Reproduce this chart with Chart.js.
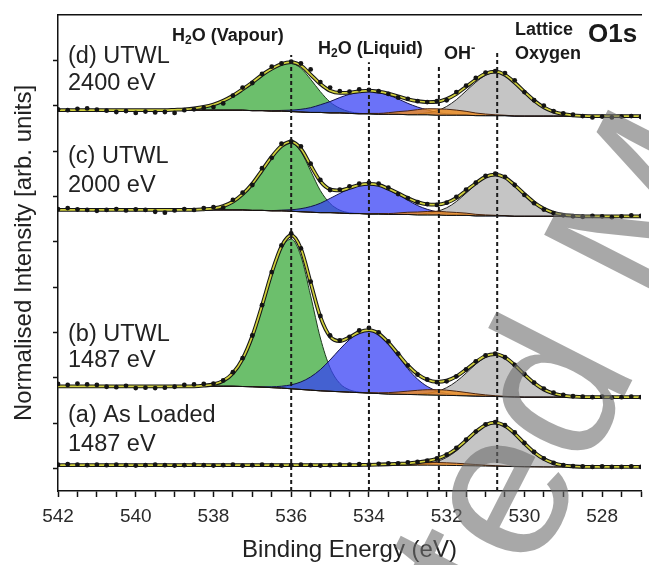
<!DOCTYPE html>
<html>
<head>
<meta charset="utf-8">
<script src="https://cdn.jsdelivr.net/npm/chart.js@4.4.0/dist/chart.umd.min.js"></script>
<style>
  html, body { margin: 0; padding: 0; background: #fff; }
  canvas { display: block; }
</style>
</head>
<body>
<canvas id="xps" width="649" height="565"></canvas>
<script>
// binding energy grid (eV)
var energy = [542, 541.75, 541.5, 541.25, 541, 540.75, 540.5, 540.25, 540, 539.75,
  539.5, 539.25, 539, 538.75, 538.5, 538.25, 538, 537.75, 537.5, 537.25,
  537, 536.75, 536.5, 536.25, 536, 535.75, 535.5, 535.25, 535, 534.75,
  534.5, 534.25, 534, 533.75, 533.5, 533.25, 533, 532.75, 532.5, 532.25,
  532, 531.75, 531.5, 531.25, 531, 530.75, 530.5, 530.25, 530, 529.75,
  529.5, 529.25, 529, 528.75, 528.5, 528.25, 528, 527.75, 527.5, 527.25, 527];
var yTicks = [0, 1, 2, 3, 4, 5, 6, 7, 8, 9];

// peak positions marked by the dashed lines and how high each line reaches
var peakEnergy = [536.0, 534.0, 532.2, 530.7];
var peakLineTop = [9.12, 8.96, 8.90, 9.23];

// (d) UTWL 2400 eV
var bgD = [7.90, 7.90, 7.90, 7.90, 7.90, 7.90, 7.90, 7.90, 7.90, 7.90,
  7.90, 7.90, 7.90, 7.90, 7.90, 7.90, 7.90, 7.90, 7.90, 7.90,
  7.89, 7.89, 7.88, 7.88, 7.87, 7.86, 7.85, 7.85, 7.84, 7.84,
  7.83, 7.82, 7.82, 7.81, 7.81, 7.81, 7.80, 7.80, 7.80, 7.79,
  7.79, 7.79, 7.79, 7.78, 7.78, 7.78, 7.78, 7.77, 7.77, 7.77,
  7.77, 7.77, 7.77, 7.77, 7.77, 7.77, 7.77, 7.77, 7.77, 7.77, 7.77];
var vapD = [0, 0, 0, 0, 0, 0, 0, 0, 0, 0,
  0, 0, 0.009, 0.019, 0.038, 0.072, 0.126, 0.209, 0.320, 0.462,
  0.623, 0.787, 0.929, 1.025, 1.06, 0.966, 0.731, 0.459, 0.240, 0.104,
  0.037, 0.011, 0.003, 0, 0, 0, 0, 0, 0, 0,
  0, 0, 0, 0, 0, 0, 0, 0, 0, 0,
  0, 0, 0, 0, 0, 0, 0, 0, 0, 0, 0];
var liqD = [0, 0, 0, 0, 0, 0, 0, 0, 0, 0,
  0, 0, 0, 0, 0, 0, 0, 0, 0, 0,
  0, 0.003, 0.007, 0.015, 0.031, 0.060, 0.106, 0.170, 0.251, 0.339,
  0.421, 0.479, 0.5, 0.479, 0.421, 0.339, 0.251, 0.170, 0.106, 0.060,
  0.031, 0.015, 0.007, 0.003, 0, 0, 0, 0, 0, 0,
  0, 0, 0, 0, 0, 0, 0, 0, 0, 0, 0];
var ohD = [0, 0, 0, 0, 0, 0, 0, 0, 0, 0,
  0, 0, 0, 0, 0, 0, 0, 0, 0, 0,
  0, 0, 0, 0, 0, 0, 0, 0, 0, 0,
  0, 0.004, 0.009, 0.019, 0.035, 0.058, 0.085, 0.112, 0.132, 0.14,
  0.132, 0.112, 0.085, 0.058, 0.035, 0.019, 0.009, 0.004, 0, 0,
  0, 0, 0, 0, 0, 0, 0, 0, 0, 0, 0];
var latD = [0, 0, 0, 0, 0, 0, 0, 0, 0, 0,
  0, 0, 0, 0, 0, 0, 0, 0, 0, 0,
  0, 0, 0, 0, 0, 0, 0, 0, 0, 0,
  0, 0, 0, 0, 0, 0, 0.005, 0.016, 0.042, 0.096,
  0.193, 0.342, 0.535, 0.736, 0.891, 0.95, 0.891, 0.736, 0.535, 0.342,
  0.193, 0.096, 0.042, 0.016, 0.005, 0, 0, 0, 0, 0, 0];
var dotsD = [7.92, 7.90, 7.93, 7.94, 7.91, 7.89, 7.86, 7.88, 7.84, 7.87,
  7.85, 7.86, 7.84, 7.90, 7.92, 7.95, 7.97, 8.05, 8.22, 8.40,
  8.50, 8.70, 8.86, 8.93, 8.97, 8.93, 8.80, 8.52, 8.40, 8.32,
  8.31, 8.36, 8.35, 8.32, 8.26, 8.18, 8.15, 8.10, 8.08, 8.10,
  8.12, 8.30, 8.44, 8.61, 8.73, 8.76, 8.72, 8.56, 8.30, 8.12,
  8.00, 7.88, 7.83, 7.80, 7.77, 7.74, 7.76, 7.74, 7.76, 7.77, 7.75];

// (c) UTWL 2000 eV
var bgC = [5.70, 5.70, 5.70, 5.70, 5.70, 5.70, 5.70, 5.70, 5.70, 5.70,
  5.70, 5.70, 5.70, 5.70, 5.70, 5.70, 5.70, 5.70, 5.70, 5.70,
  5.69, 5.69, 5.68, 5.68, 5.67, 5.66, 5.65, 5.64, 5.64, 5.63,
  5.62, 5.62, 5.61, 5.61, 5.60, 5.60, 5.60, 5.59, 5.59, 5.59,
  5.58, 5.58, 5.58, 5.57, 5.57, 5.57, 5.57, 5.56, 5.56, 5.56,
  5.56, 5.56, 5.56, 5.56, 5.56, 5.56, 5.56, 5.56, 5.56, 5.56, 5.56];
var vapC = [0, 0, 0, 0, 0, 0, 0, 0, 0, 0,
  0, 0, 0, 0, 0, 0.013, 0.035, 0.085, 0.182, 0.347,
  0.587, 0.885, 1.187, 1.415, 1.5, 1.323, 0.910, 0.487, 0.203, 0.066,
  0.017, 0.003, 0, 0, 0, 0, 0, 0, 0, 0,
  0, 0, 0, 0, 0, 0, 0, 0, 0, 0,
  0, 0, 0, 0, 0, 0, 0, 0, 0, 0, 0];
var liqC = [0, 0, 0, 0, 0, 0, 0, 0, 0, 0,
  0, 0, 0, 0, 0, 0, 0, 0, 0, 0,
  0, 0, 0.006, 0.015, 0.034, 0.068, 0.124, 0.207, 0.314, 0.434,
  0.548, 0.630, 0.66, 0.630, 0.548, 0.434, 0.314, 0.207, 0.124, 0.068,
  0.034, 0.015, 0.006, 0, 0, 0, 0, 0, 0, 0,
  0, 0, 0, 0, 0, 0, 0, 0, 0, 0, 0];
var ohC = [0, 0, 0, 0, 0, 0, 0, 0, 0, 0,
  0, 0, 0, 0, 0, 0, 0, 0, 0, 0,
  0, 0, 0, 0, 0, 0, 0, 0, 0, 0,
  0, 0, 0.005, 0.011, 0.020, 0.033, 0.049, 0.064, 0.076, 0.08,
  0.076, 0.064, 0.049, 0.033, 0.020, 0.011, 0.005, 0, 0, 0,
  0, 0, 0, 0, 0, 0, 0, 0, 0, 0, 0];
var latC = [0, 0, 0, 0, 0, 0, 0, 0, 0, 0,
  0, 0, 0, 0, 0, 0, 0, 0, 0, 0,
  0, 0, 0, 0, 0, 0, 0, 0, 0, 0,
  0, 0, 0, 0, 0, 0, 0, 0.012, 0.033, 0.079,
  0.167, 0.305, 0.490, 0.687, 0.842, 0.90, 0.842, 0.687, 0.490, 0.305,
  0.167, 0.079, 0.033, 0.012, 0, 0, 0, 0, 0, 0, 0];
var dotsC = [5.72, 5.74, 5.71, 5.70, 5.68, 5.70, 5.72, 5.69, 5.71, 5.70,
  5.66, 5.64, 5.69, 5.72, 5.70, 5.74, 5.76, 5.75, 5.92, 6.08,
  6.25, 6.62, 6.85, 7.16, 7.21, 7.10, 6.72, 6.36, 6.14, 6.15,
  6.22, 6.28, 6.30, 6.28, 6.19, 6.05, 5.96, 5.87, 5.83, 5.81,
  5.86, 5.99, 6.15, 6.30, 6.45, 6.50, 6.43, 6.25, 6.03, 5.85,
  5.71, 5.63, 5.58, 5.56, 5.55, 5.57, 5.56, 5.54, 5.56, 5.58, 5.57];

// (b) UTWL 1487 eV
var bgB = [1.81, 1.81, 1.81, 1.81, 1.81, 1.81, 1.81, 1.81, 1.81, 1.81,
  1.81, 1.81, 1.81, 1.81, 1.81, 1.81, 1.81, 1.81, 1.81, 1.805,
  1.80, 1.79, 1.78, 1.77, 1.755, 1.74, 1.725, 1.71, 1.70, 1.69,
  1.68, 1.67, 1.66, 1.65, 1.64, 1.635, 1.63, 1.625, 1.62, 1.615,
  1.61, 1.605, 1.60, 1.595, 1.59, 1.585, 1.58, 1.575, 1.57, 1.57,
  1.57, 1.57, 1.57, 1.57, 1.57, 1.57, 1.57, 1.57, 1.57, 1.57, 1.57];
var vapB = [0, 0, 0, 0, 0, 0, 0, 0, 0, 0,
  0, 0, 0, 0, 0, 0.014, 0.044, 0.120, 0.290, 0.611,
  1.119, 1.795, 2.518, 3.086, 3.30, 2.94, 2.08, 1.165, 0.518, 0.183,
  0.051, 0.012, 0, 0, 0, 0, 0, 0, 0, 0,
  0, 0, 0, 0, 0, 0, 0, 0, 0, 0,
  0, 0, 0, 0, 0, 0, 0, 0, 0, 0, 0];
var liqB = [0, 0, 0, 0, 0, 0, 0, 0, 0, 0,
  0, 0, 0, 0, 0, 0, 0, 0, 0, 0,
  0, 0.008, 0.019, 0.042, 0.087, 0.166, 0.291, 0.468, 0.691, 0.936,
  1.160, 1.323, 1.38, 1.306, 1.105, 0.838, 0.567, 0.343, 0.187, 0.092,
  0.040, 0.015, 0.006, 0, 0, 0, 0, 0, 0, 0,
  0, 0, 0, 0, 0, 0, 0, 0, 0, 0, 0];
var ohB = [0, 0, 0, 0, 0, 0, 0, 0, 0, 0,
  0, 0, 0, 0, 0, 0, 0, 0, 0, 0,
  0, 0, 0, 0, 0, 0, 0, 0, 0, 0,
  0, 0, 0.008, 0.016, 0.030, 0.049, 0.073, 0.096, 0.114, 0.12,
  0.114, 0.096, 0.073, 0.049, 0.030, 0.016, 0.008, 0, 0, 0,
  0, 0, 0, 0, 0, 0, 0, 0, 0, 0, 0];
var latB = [0, 0, 0, 0, 0, 0, 0, 0, 0, 0,
  0, 0, 0, 0, 0, 0, 0, 0, 0, 0,
  0, 0, 0, 0, 0, 0, 0, 0, 0, 0,
  0, 0, 0, 0, 0, 0, 0, 0.012, 0.034, 0.081,
  0.170, 0.312, 0.500, 0.702, 0.860, 0.92, 0.860, 0.702, 0.500, 0.312,
  0.170, 0.081, 0.034, 0.012, 0, 0, 0, 0, 0, 0, 0];
var dotsB = [1.86, 1.84, 1.87, 1.85, 1.84, 1.80, 1.79, 1.82, 1.77, 1.78,
  1.77, 1.78, 1.80, 1.84, 1.85, 1.86, 1.87, 1.94, 2.12, 2.43,
  2.93, 3.60, 4.33, 4.92, 5.18, 4.85, 4.12, 3.36, 2.93, 2.82,
  2.90, 3.04, 3.10, 3.00, 2.80, 2.53, 2.27, 2.07, 1.96, 1.90,
  1.92, 2.03, 2.18, 2.36, 2.49, 2.53, 2.45, 2.28, 2.08, 1.89,
  1.76, 1.67, 1.62, 1.59, 1.58, 1.57, 1.58, 1.56, 1.57, 1.58, 1.57];

// (a) As Loaded 1487 eV
var bgA = [0.07, 0.07, 0.07, 0.07, 0.07, 0.07, 0.07, 0.07, 0.07, 0.07,
  0.07, 0.07, 0.07, 0.07, 0.07, 0.07, 0.07, 0.07, 0.07, 0.07,
  0.07, 0.07, 0.07, 0.07, 0.07, 0.07, 0.07, 0.07, 0.07, 0.07,
  0.07, 0.07, 0.07, 0.07, 0.07, 0.07, 0.07, 0.07, 0.07, 0.068,
  0.065, 0.062, 0.058, 0.054, 0.05, 0.046, 0.042, 0.038, 0.035, 0.033,
  0.031, 0.03, 0.03, 0.03, 0.03, 0.03, 0.03, 0.03, 0.03, 0.03, 0.03];
var ohA = [0, 0, 0, 0, 0, 0, 0, 0, 0, 0,
  0, 0, 0, 0, 0, 0, 0, 0, 0, 0,
  0, 0, 0, 0, 0, 0, 0, 0, 0, 0,
  0, 0.004, 0.007, 0.013, 0.020, 0.030, 0.041, 0.050, 0.057, 0.06,
  0.057, 0.050, 0.041, 0.030, 0.020, 0.013, 0.007, 0.004, 0, 0,
  0, 0, 0, 0, 0, 0, 0, 0, 0, 0, 0];
var latA = [0, 0, 0, 0, 0, 0, 0, 0, 0, 0,
  0, 0, 0, 0, 0, 0, 0, 0, 0, 0,
  0, 0, 0, 0, 0, 0, 0, 0, 0, 0,
  0, 0, 0, 0, 0, 0, 0, 0.013, 0.035, 0.084,
  0.176, 0.322, 0.517, 0.725, 0.888, 0.95, 0.888, 0.725, 0.517, 0.322,
  0.176, 0.084, 0.035, 0.013, 0, 0, 0, 0, 0, 0, 0];
var dotsA = [0.08, 0.09, 0.08, 0.07, 0.08, 0.07, 0.08, 0.07, 0.06, 0.07,
  0.08, 0.07, 0.06, 0.07, 0.08, 0.07, 0.06, 0.07, 0.08, 0.06,
  0.07, 0.08, 0.07, 0.06, 0.07, 0.08, 0.07, 0.06, 0.07, 0.08,
  0.08, 0.09, 0.08, 0.10, 0.11, 0.11, 0.13, 0.14, 0.17, 0.22,
  0.30, 0.45, 0.63, 0.81, 0.97, 1.02, 0.95, 0.79, 0.56, 0.36,
  0.22, 0.12, 0.07, 0.05, 0.04, 0.03, 0.04, 0.03, 0.03, 0.04, 0.03];

var xTicks = energy.filter(function (e, i) { return i % 2 === 0; });

Chart.defaults.font.family = '"Liberation Sans", Arial, sans-serif';
Chart.defaults.color = '#222';

// component styles: green drawn first, then blue, grey, orange on top
var compStyle = {
  vap: { fill: 'rgba(100,188,100,0.95)', line: '#1e3a1e', order: 8 },
  liq: { fill: 'rgba(55,65,245,0.74)', line: '#12124a', order: 7 },
  lat: { fill: 'rgba(150,150,150,0.55)', line: '#222', order: 6 },
  oh: { fill: 'rgba(240,140,30,0.8)', line: '#4a2410', order: 5 }
};

var datasets = [];

function pts(vals) {
  return energy.map(function (e, i) { return { x: e, y: vals[i] }; });
}

function addSpectrum(bg, comps, dots) {
  var bgIndex = datasets.length;
  datasets.push({
    data: pts(bg), borderColor: '#111', borderWidth: 1, pointRadius: 0,
    fill: false, tension: 0, order: 4
  });
  comps.forEach(function (c) {
    var st = compStyle[c.kind];
    var abs = bg.map(function (b, i) { return b + c.h[i]; });
    datasets.push({
      data: pts(abs), borderColor: st.line, borderWidth: 1, backgroundColor: st.fill,
      fill: { target: bgIndex }, pointRadius: 0, cubicInterpolationMode: 'monotone', order: st.order
    });
  });
  var fit = bg.map(function (b, i) {
    var s = b;
    comps.forEach(function (c) { s += c.h[i]; });
    return s;
  });
  datasets.push({
    data: pts(fit), borderColor: '#151515', borderWidth: 3.8, pointRadius: 0,
    fill: false, cubicInterpolationMode: 'monotone', order: 3
  });
  datasets.push({
    data: pts(fit), borderColor: '#d0cf3c', borderWidth: 1.7, pointRadius: 0,
    fill: false, cubicInterpolationMode: 'monotone', order: 2
  });
  datasets.push({
    data: pts(dots), showLine: false, pointRadius: 2.4, pointBackgroundColor: '#141414',
    pointBorderWidth: 0, order: 1
  });
}

addSpectrum(bgD, [{ h: vapD, kind: 'vap' }, { h: liqD, kind: 'liq' }, { h: ohD, kind: 'oh' }, { h: latD, kind: 'lat' }], dotsD);
addSpectrum(bgC, [{ h: vapC, kind: 'vap' }, { h: liqC, kind: 'liq' }, { h: ohC, kind: 'oh' }, { h: latC, kind: 'lat' }], dotsC);
addSpectrum(bgB, [{ h: vapB, kind: 'vap' }, { h: liqB, kind: 'liq' }, { h: ohB, kind: 'oh' }, { h: latB, kind: 'lat' }], dotsB);
addSpectrum(bgA, [{ h: ohA, kind: 'oh' }, { h: latA, kind: 'lat' }], dotsA);

peakEnergy.forEach(function (e, i) {
  datasets.push({
    data: [{ x: e, y: -0.5 }, { x: e, y: peakLineTop[i] }],
    borderColor: '#1a1a1a', borderWidth: 2, borderDash: [4, 3], pointRadius: 0,
    fill: false, order: 0
  });
});

// text on the plot: sample names, peak names and the watermark
function drawParts(ctx, parts, x, y) {
  parts.forEach(function (p) {
    ctx.font = 'bold ' + p[1] + 'px "Liberation Sans", Arial, sans-serif';
    ctx.fillText(p[0], x, y + p[2]);
    x += ctx.measureText(p[0]).width;
  });
}

var annotate = {
  id: 'annotate',
  afterDraw: function (chart) {
    var ctx = chart.ctx;
    ctx.save();
    ctx.fillStyle = '#222';
    ctx.textBaseline = 'middle';
    ctx.textAlign = 'left';
    ctx.font = '23.5px "Liberation Sans", Arial, sans-serif';
    [['(d) UTWL', 57], ['2400 eV', 84], ['(c) UTWL', 157], ['2000 eV', 186],
     ['(b) UTWL', 335], ['1487 eV', 361], ['(a) As Loaded', 416], ['1487 eV', 445]].forEach(function (t) {
      ctx.fillText(t[0], 68, t[1]);
    });
    ctx.fillStyle = '#1a1a1a';
    drawParts(ctx, [['H', 18, 0], ['2', 12, 5], ['O (Vapour)', 18, 0]], 172, 36);
    drawParts(ctx, [['H', 18, 0], ['2', 12, 5], ['O (Liquid)', 18, 0]], 318, 49);
    drawParts(ctx, [['OH', 18, 0], ['-', 13, -6]], 444, 54);
    drawParts(ctx, [['Lattice', 18, 0]], 515, 30);
    drawParts(ctx, [['Oxygen', 18, 0]], 515, 54);
    drawParts(ctx, [['O1s', 26, 0]], 588, 35);

    // "Accepted Manuscript" watermark running up to the right
    ctx.translate(241, 1148);
    ctx.rotate(-63 * Math.PI / 180);
    ctx.font = '210px "Liberation Sans", Arial, sans-serif';
    ctx.textBaseline = 'alphabetic';
    ctx.fillStyle = 'rgba(110,110,110,0.6)';
    ctx.fillText('Accepted Manuscript', 0, 0);
    ctx.restore();
  }
};

new Chart(document.getElementById('xps'), {
  type: 'line',
  data: { datasets: datasets },
  options: {
    responsive: false,
    animation: false,
    devicePixelRatio: 1,
    events: [],
    layout: { padding: { top: 15, right: 0, bottom: 0, left: 0 } },
    plugins: { legend: { display: false }, tooltip: { enabled: false } },
    scales: {
      x: {
        type: 'linear', reverse: true, min: 527, max: 542, position: 'bottom',
        afterBuildTicks: function (s) { s.ticks = xTicks.map(function (v) { return { value: v }; }); },
        afterFit: function (s) { s.height = 74; },
        ticks: {
          autoSkip: false, maxRotation: 0, minRotation: 0, padding: 8, color: '#2a2a2a',
          font: { size: 19 },
          callback: function (v) { return v % 2 === 0 ? String(v) : ''; }
        },
        grid: { drawOnChartArea: false, tickLength: 6, tickWidth: 1.5, tickColor: '#111' },
        border: { color: '#111', width: 1.5 },
        title: { display: true, text: 'Binding Energy (eV)', font: { size: 24 }, color: '#222', padding: 0 }
      },
      xTop: {
        type: 'linear', axis: 'x', reverse: true, min: 527, max: 542, position: 'top',
        afterFit: function (s) { s.height = 0; },
        ticks: { display: false },
        grid: { display: false },
        border: { color: '#111', width: 1.5 }
      },
      y: {
        type: 'linear', min: -0.5, max: 10,
        afterBuildTicks: function (s) { s.ticks = yTicks.map(function (v) { return { value: v }; }); },
        afterFit: function (s) { s.width = 58; },
        ticks: { display: false },
        grid: { drawOnChartArea: false, tickLength: 5, tickWidth: 1.5, tickColor: '#111' },
        border: { color: '#111', width: 1.5 },
        title: {
          display: true, text: 'Normalised Intensity [arb. units]', font: { size: 24 },
          color: '#222', padding: { top: 10, bottom: 0 }
        }
      }
    }
  },
  plugins: [annotate]
});
</script>
</body>
</html>
